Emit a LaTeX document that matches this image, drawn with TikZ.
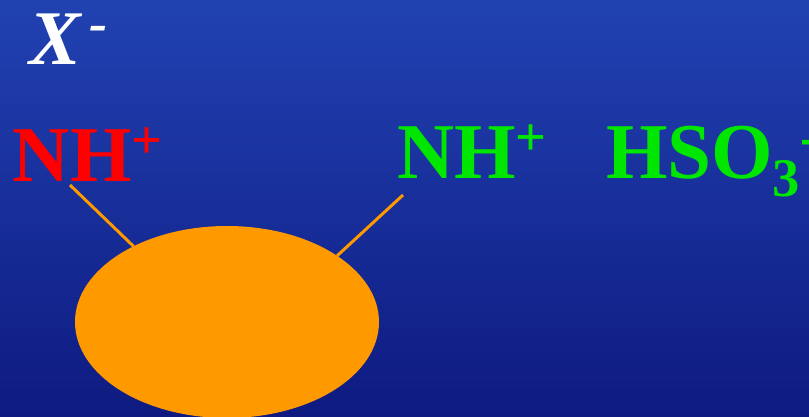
\documentclass[tikz,border=0pt]{standalone}
\usepackage{fontspec}
\setmainfont{Liberation Serif}
\usetikzlibrary{shapes.geometric}
\definecolor{bgtop}{HTML}{2142B2}
\definecolor{bgbottom}{HTML}{0E1A80}
\definecolor{bead}{HTML}{FF9900}
\definecolor{ionred}{HTML}{FF0000}
\definecolor{iongreen}{HTML}{00E600}
\newcommand{\ionsup}[1]{\raisebox{13.5pt}{\fontsize{31}{31}\selectfont #1}}
\newcommand{\ionsub}[1]{\raisebox{-10pt}{\fontsize{31}{31}\selectfont #1}}

\begin{document}
\begin{tikzpicture}[
  ion/.style={inner sep=0pt, outer sep=0pt, anchor=base west,
              font=\fontsize{45}{52}\selectfont\bfseries},
  tether/.style={line width=1.7pt, bead},
]

\useasboundingbox (0,0) rectangle (16.18,8.34);
\shade[top color=bgtop, bottom color=bgbottom] (0,0) rectangle (16.18,8.34);

\node[ion, text=white, font=\fontsize{44}{52}\selectfont\bfseries\itshape] (xion) at (0.60, 7.04) {X\hspace{0.1em}\ionsup{-}};
\node[ion, text=ionred] (nhleft) at (0.26, 4.70) {NH\ionsup{+}};
\node[ion, text=iongreen] (nhright) at (7.94, 4.76) {NH\ionsup{+}};
\node[ion, text=iongreen] (hso) at (12.12, 4.76) {HSO\ionsub{3}\ionsup{-}};

\coordinate (tipL) at (1.40, 4.64);
\coordinate (tipR) at (8.06, 4.44);

\node[ellipse, fill=bead, inner sep=0pt, outer sep=0pt,
      minimum width=6.08cm, minimum height=3.84cm] (sphere) at (4.54, 1.90) {};

\draw[tether] (tipL) -- (sphere.141.7);
\draw[tether] (tipR) -- (sphere.31.1);

\end{tikzpicture}
\end{document}
